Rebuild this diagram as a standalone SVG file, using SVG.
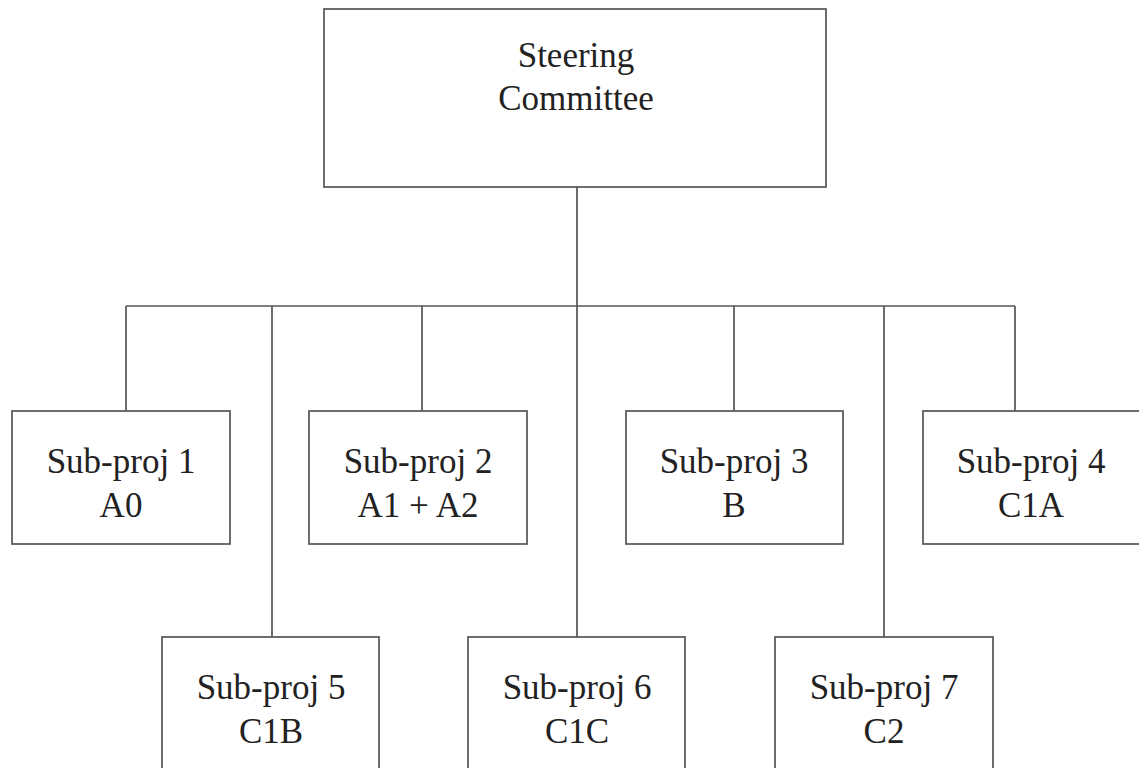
<svg xmlns="http://www.w3.org/2000/svg" width="1139" height="768" viewBox="0 0 1139 768">
<style>
.box{fill:#fff;stroke:#555;stroke-width:1.7}
.ln{fill:none;stroke:#555;stroke-width:1.7}
.t{font-size:35px;fill:#222;text-anchor:middle}
</style>
<rect width="1139" height="768" fill="#fff"/>
<g id="connectors">
<path class="ln" d="M577,187V637 M126,306H1015 M126,306V411 M272,306V637 M422,306V411 M734,306V411 M884,306V637 M1015,306V411"/>
</g>
<g font-family="'Liberation Serif', 'Times New Roman', Times, serif">
<g id="steering"><rect class="box" x="324" y="9" width="502" height="178"/><text class="t" x="576" y="67">Steering</text><text class="t" x="576" y="110">Committee</text></g>
<g id="sp1"><rect class="box" x="12" y="411" width="218" height="133"/><text class="t" x="121" y="473">Sub-proj 1</text><text class="t" x="121" y="517">A0</text></g>
<g id="sp2"><rect class="box" x="309" y="411" width="218" height="133"/><text class="t" x="418" y="473">Sub-proj 2</text><text class="t" x="418" y="517">A1 + A2</text></g>
<g id="sp3"><rect class="box" x="626" y="411" width="217" height="133"/><text class="t" x="734" y="473">Sub-proj 3</text><text class="t" x="734" y="517">B</text></g>
<g id="sp4"><rect class="box" x="923" y="411" width="220" height="133"/><text class="t" x="1031" y="473">Sub-proj 4</text><text class="t" x="1031" y="517">C1A</text></g>
<g id="sp5"><rect class="box" x="162" y="637" width="217" height="140"/><text class="t" x="271" y="699">Sub-proj 5</text><text class="t" x="271" y="743">C1B</text></g>
<g id="sp6"><rect class="box" x="468" y="637" width="217" height="140"/><text class="t" x="577" y="699">Sub-proj 6</text><text class="t" x="577" y="743">C1C</text></g>
<g id="sp7"><rect class="box" x="775" y="637" width="218" height="140"/><text class="t" x="884" y="699">Sub-proj 7</text><text class="t" x="884" y="743">C2</text></g>
</g>
</svg>
